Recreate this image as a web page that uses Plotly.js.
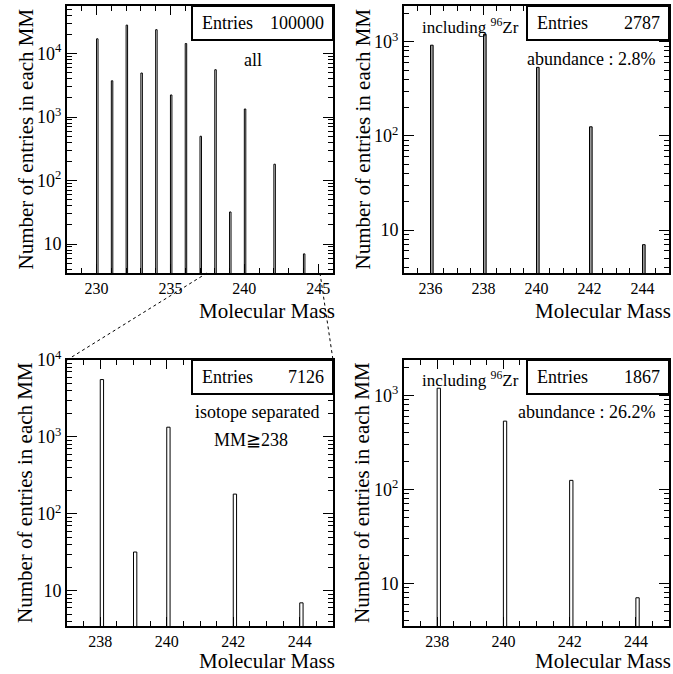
<!DOCTYPE html>
<html><head><meta charset="utf-8">
<script src="https://cdn.plot.ly/plotly-3.0.1.min.js"></script>
<style>body{margin:0;background:#fff;}#p{width:673px;height:674px;}</style>
</head><body><div id="p"></div><script>
// ---- data ----
const massAll   = [230,231,232,233,234,235,236,237,238,239,240,242,244];
const countAll  = [17100,3730,28100,4940,23800,2230,14400,499,5570,32,1340,181,7];
const massZr    = [236,238,240,242,244];
const countZr   = [920,1200,535,125,7];
const massSep   = [238,239,240,242,244];
const countSep  = [5570,32,1340,181,7];
const massSepZr = [238,240,242,244];
const countSepZr= [1200,535,125,7];
const entries   = ["100000","2787","7126","1867"];
const xTitle = "Molecular Mass";
const yTitle = "Number of entries in each MM";

const FONT = "Liberation Serif, DejaVu Serif, serif";
const W = 673, H = 674;
const px = v => v / W, py = v => 1 - v / H;

// panel pixel boxes [x0,x1,yTop,yBottom]
const P = [[67,333,6,273],[404,669,6,273],[67,333,360,626],[404,669,360,626]];

function bar(x, y, xa, ya, fill){
  return {type:'bar', x:x, y:y, xaxis:xa, yaxis:ya, width:0.1, offset:0,
    marker:{color:fill, line:{color:'#000', width:1}}, hoverinfo:'skip', showlegend:false};
}
const data = [
  bar(massAll, countAll, 'x', 'y', '#fff'),
  bar(massZr, countZr, 'x2', 'y2', '#999'),
  bar(massSep, countSep, 'x3', 'y3', '#fff'),
  bar(massSepZr, countSepZr, 'x4', 'y4', '#fff')
];

function logMinor(lo, hi){
  const v=[]; for(let d=lo; d<hi; d++) for(let k=2;k<10;k++) v.push(k*Math.pow(10,d)); return v;
}
const majors = [1,10,100,1000,10000];
const majText = ["1","10","10<sup>2</sup>","10<sup>3</sup>","10<sup>4</sup>"];

function xax(i, range, dtick, tick0, mdt){
  const b = P[i];
  return {domain:[px(b[0]), px(b[1])], range:range, dtick:dtick, tick0:tick0, tickmode:'linear',
    ticks:'inside', ticklen:9, tickwidth:1, tickcolor:'#000', showline:true, linewidth:2, linecolor:'#000',
    mirror:'allticks', showgrid:false, zeroline:false, anchor:'y'+(i?i+1:''),
    tickfont:{family:FONT, size:16, color:'#000'},
    minor:{dtick:mdt, tick0:tick0, ticks:'inside', ticklen:5, tickwidth:1, tickcolor:'#000', showgrid:false}};
}
function yax(i, maxv){
  const b = P[i];
  return {type:'log', domain:[py(b[3]), py(b[2])], range:[Math.log10(3.5), Math.log10(maxv)],
    tickmode:'array', tickvals:majors, ticktext:majText,
    ticks:'inside', ticklen:10, tickwidth:1, tickcolor:'#000', showline:true, linewidth:2, linecolor:'#000',
    mirror:'allticks', showgrid:false, zeroline:false, anchor:'x'+(i?i+1:''),
    tickfont:{family:FONT, size:18, color:'#000'},
    minor:{tickmode:'array', tickvals:logMinor(0,5), ticks:'inside', ticklen:5, tickwidth:1, tickcolor:'#000', showgrid:false}};
}

const layout = {
  width:W, height:H, margin:{l:0,r:0,t:0,b:0}, paper_bgcolor:'#fff', plot_bgcolor:'#fff',
  showlegend:false, bargap:0,
  xaxis: xax(0,[228,246],5,230,1),
  xaxis2: xax(1,[235,245],2,236,0.5),
  xaxis3: xax(2,[237,245],2,238,0.5),
  xaxis4: xax(3,[237,245],2,238,0.5),
  yaxis: yax(0, 2*Math.max(...countAll)),
  yaxis2: yax(1, 2*Math.max(...countZr)),
  yaxis3: yax(2, 10000),
  yaxis4: yax(3, 2*Math.max(...countSepZr)),
  shapes:[], annotations:[]
};

const tf = s => ({family:FONT, size:s, color:'#000'});
function ann(text, x, y, xa, ya, size, extra){
  layout.annotations.push(Object.assign({text:text, x:px(x), y:py(y), xref:'paper', yref:'paper',
    xanchor:xa, yanchor:ya, showarrow:false, font:tf(size)}, extra||{}));
}

// entries boxes
const boxL = [192,527,192,527];
P.forEach((b,i)=>{
  layout.shapes.push({type:'rect', xref:'paper', yref:'paper', x0:px(boxL[i]), x1:px(b[1]),
    y0:py(b[2]+34), y1:py(b[2]), line:{color:'#000', width:2}, fillcolor:'#fff', layer:'above'});
  ann("Entries", boxL[i]+8, b[2]+17, 'left', 'middle', 18);
  ann(entries[i], b[1]-7, b[2]+17, 'right', 'middle', 18);
  ann(xTitle, b[1]+4, b[3]+(i<2?38:35), 'right', 'middle', 21);
  ann(yTitle, b[0]-42, (b[2]+b[3])/2, 'center', 'middle', 21, {textangle:-90});
});

ann("all", 253, 60, 'center', 'middle', 18);
ann("including <sup>96</sup>Zr", 420, 26, 'left', 'middle', 17);
ann("abundance : 2.8%", 591, 59, 'center', 'middle', 18);
ann("isotope separated", 257, 412, 'center', 'middle', 18);
ann("MM≧238", 251, 440, 'center', 'middle', 18);
ann("including <sup>96</sup>Zr", 420, 379, 'left', 'middle', 17);
ann("abundance : 26.2%", 586, 412, 'center', 'middle', 18);

// zoom guide lines
layout.shapes.push({type:'line', xref:'paper', yref:'paper', x0:px(207), y0:py(273), x1:px(67), y1:py(360),
  line:{color:'#000', width:1, dash:'dot'}});
layout.shapes.push({type:'line', xref:'paper', yref:'paper', x0:px(320), y0:py(273), x1:px(333), y1:py(360),
  line:{color:'#000', width:1, dash:'dot'}});

Plotly.newPlot('p', data, layout, {staticPlot:true, displayModeBar:false});
</script></body></html>
